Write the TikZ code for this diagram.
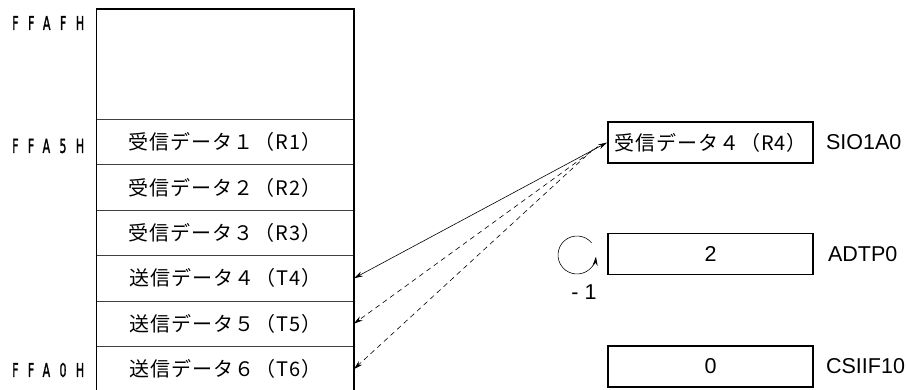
\documentclass[tikz,border=0pt]{standalone}
\usepackage{fontspec}
\setmainfont{Liberation Sans}
\newfontfamily\jpfont[LetterSpace=5]{Noto Sans CJK JP}
\newfontfamily\hexfont[LetterSpace=85,FakeBold=2]{DejaVu Sans}
\newcommand{\adr}[1]{\resizebox{72pt}{14pt}{\hexfont #1}}
\usetikzlibrary{positioning,arrows.meta}

\tikzset{
  case/.style={minimum width=257pt, minimum height=45pt, inner sep=0pt,
    font=\jpfont\fontsize{20}{20}\selectfont},
  registre/.style={draw, line width=1.8pt, minimum width=205pt, minimum height=41pt,
    inner sep=0pt, font=\fontsize{21.5}{21.5}\selectfont},
  adresse/.style={anchor=west, inner sep=0pt},
  nom/.style={inner sep=0pt, font=\fontsize{21.5}{21.5}\selectfont},
  fleche/.style={-{Stealth[length=9pt,width=5pt]}, line width=0.6pt},
}

\begin{document}
\begin{tikzpicture}[x=1pt,y=-1pt]
    \useasboundingbox (0,0) rectangle (906,390);

    % Zone vide du haut
    \node[case, minimum height=110pt, anchor=north west] (vide) at (96.5,9) {};

    % Cases de la RAM
    \node[case, below=0pt of vide] (r1) {受信データ１（R1）};
    \node[case, below=0pt of r1] (r2) {受信データ２（R2）};
    \node[case, below=0pt of r2] (r3) {受信データ３（R3）};
    \node[case, below=0pt of r3] (t4) {送信データ４（T4）};
    \node[case, below=0pt of t4] (t5) {送信データ５（T5）};
    \node[case, below=0pt of t5] (t6) {送信データ６（T6）};

    % Traits de séparation et cadre
    \foreach \c in {r1, r2, r3, t4, t5, t6}
        \draw[black!75, line width=0.8pt] (\c.north west) -- (\c.north east);
    \draw[line width=1.8pt] (vide.north west) rectangle (t6.south east);

    % Adresses
    \node[adresse] (ffafh) at (12,23) {\adr{FFAFH}};
    \node[adresse] (ffa5h) at (12,146) {\adr{FFA5H}};
    \node[adresse] (ffa0h) at (12,370) {\adr{FFA0H}};

    % Registres
    \node[registre] (sio) at (710.5,142.5) {\jpfont\fontsize{20}{20}\selectfont 受信データ４（R4）};
    \node[registre] (adtp) at (710.5,254) {2};
    \node[registre] (csiif) at (710.5,366.5) {0};

    \node[nom, right=12pt of sio, anchor=west] (nsio) {SIO1A0};
    \node[nom, right=14pt of adtp, anchor=west] (nadtp) {ADTP0};
    \node[nom, right=12pt of csiif, anchor=west] (ncsiif) {CSIIF10};

    % Décrément de ADTP0
    \draw[fleche] (577,255) ++(-40:19) arc[start angle=-40, end angle=-355, radius=19];
    \node[nom] (moins) at (584,292) {- 1};

    % Transferts
    \coordinate (da) at ([xshift=-9pt, yshift=-4pt]sio.west);
    \coordinate (db) at ([xshift=-14pt, yshift=-7pt]sio.west);
    \draw[fleche, {Stealth[length=9pt,width=5pt]}-{Stealth[length=9pt,width=5pt]}] (sio.west) -- (t4.east);
    \draw[fleche, dash pattern=on 5pt off 4pt] (da) -- (t5.east);
    \draw[fleche, dash pattern=on 5pt off 4pt] (db) -- (t6.east);
\end{tikzpicture}
\end{document}
